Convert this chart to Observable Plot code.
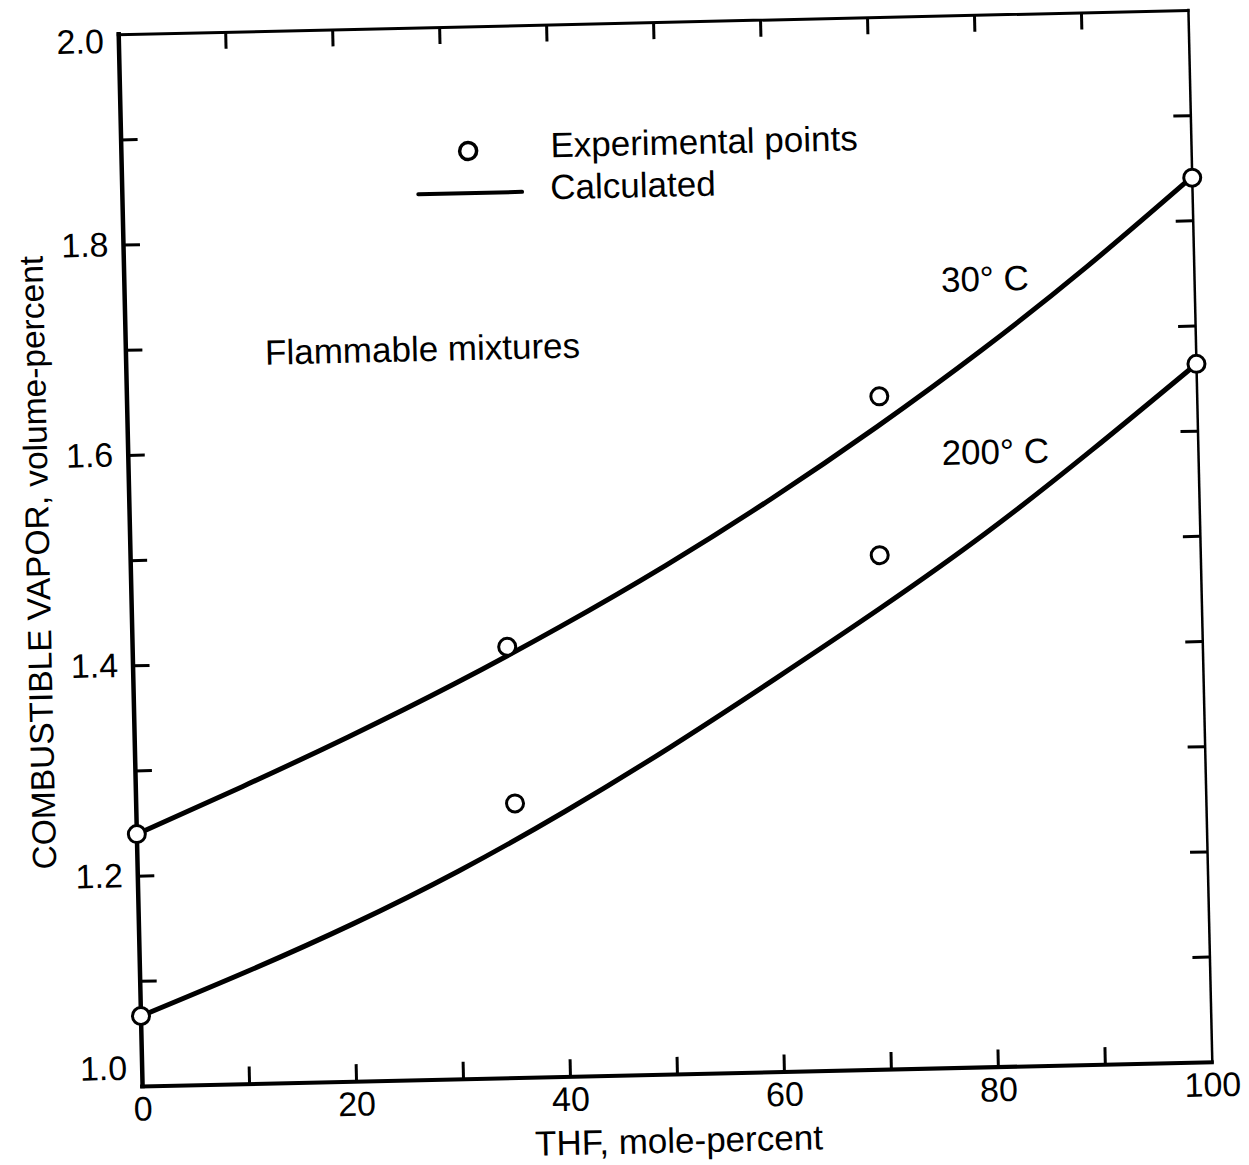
<!DOCTYPE html>
<html>
<head>
<meta charset="utf-8">
<script src="https://cdn.jsdelivr.net/npm/d3@7"></script>
<script src="https://cdn.jsdelivr.net/npm/@observablehq/plot@0.6"></script>
<style>
  html, body { margin: 0; padding: 0; background: #fff; overflow: hidden; }
  #chart { width: 1249px; height: 1165px; transform-origin: 665px 548px; transform: rotate(-1.3deg); }
</style>
</head>
<body>
<div id="chart"></div>
<script>
// Calculated curves (THF mole-percent vs combustible vapor, volume-percent)
const thf = [0, 10, 20, 30, 40, 50, 60, 70, 80, 90, 100];
const calc30 = [1.240, 1.283, 1.328, 1.376, 1.428, 1.484, 1.545, 1.611, 1.682, 1.759, 1.842];
const calc200 = [1.067, 1.107, 1.150, 1.198, 1.252, 1.311, 1.374, 1.439, 1.508, 1.584, 1.664];

// Experimental points
const expThf30 = [0, 35.0, 70.3, 100];
const exp30 = [1.240, 1.410, 1.640, 1.841];
const expThf200 = [0, 35.4, 70.0, 100];
const exp200 = [1.067, 1.261, 1.489, 1.664];

// Axes
const xLabels = [0, 20, 40, 60, 80, 100];
const xMinor = [10, 20, 30, 40, 50, 60, 70, 80, 90];
const yLabels = [1.2, 1.4, 1.6, 1.8];
const yMinor = [1.1, 1.2, 1.3, 1.4, 1.5, 1.6, 1.7, 1.8, 1.9];
const xTitle = "THF, mole-percent";
const yTitle = "COMBUSTIBLE VAPOR, volume-percent";
const seriesLabels = ["30° C", "200° C"];
const legendLabels = ["Experimental points", "Calculated"];
const regionLabel = "Flammable mixtures";

const curve30 = thf.map((x, i) => ({x, y: calc30[i]}));
const curve200 = thf.map((x, i) => ({x, y: calc200[i]}));
const points = [
  ...expThf30.map((x, i) => ({x, y: exp30[i]})),
  ...expThf200.map((x, i) => ({x, y: exp200[i]}))
];

const W = 1249, H = 1165;
const mL = 130, mR = 49, mT = 22, mB = 91;
const innerW = W - mL - mR, innerH = H - mT - mB;
const tickLen = 17;
const font = "'Liberation Sans', Arial, Helvetica, sans-serif";
const fs = 34;
const fsText = 35;
const fmt1 = d3.format(".1f");

const chart = Plot.plot({
  width: W,
  height: H,
  marginLeft: mL,
  marginRight: mR,
  marginTop: mT,
  marginBottom: mB,
  style: {fontFamily: font, fontSize: fs + "px", background: "white", color: "black", overflow: "visible"},
  x: {domain: [0, 100], axis: null},
  y: {domain: [1.0, 2.0], axis: null},
  marks: [
    // inward ticks
    Plot.tickX(xMinor, {x: d => d, insetTop: innerH - tickLen, stroke: "black", strokeWidth: 3}),
    Plot.tickX(xMinor, {x: d => d, insetBottom: innerH - tickLen, stroke: "black", strokeWidth: 3}),
    Plot.tickY(yMinor, {y: d => d, insetRight: innerW - tickLen, stroke: "black", strokeWidth: 3}),
    Plot.tickY(yMinor, {y: d => d, insetLeft: innerW - tickLen, stroke: "black", strokeWidth: 3}),
    // frame
    Plot.ruleX([0], {strokeWidth: 4.5, strokeLinecap: "square"}),
    Plot.ruleX([100], {strokeWidth: 2.5, strokeLinecap: "square"}),
    Plot.ruleY([1.0], {strokeWidth: 4, strokeLinecap: "square"}),
    Plot.ruleY([2.0], {strokeWidth: 3, strokeLinecap: "square"}),
    // tick labels
    Plot.axisX(xLabels, {anchor: "bottom", tickSize: 0, tickPadding: 10, label: null, fontSize: fs, tickFormat: d => String(d)}),
    Plot.axisY(yLabels, {anchor: "left", tickSize: 0, tickPadding: 15, label: null, fontSize: fs, tickFormat: fmt1}),
    Plot.axisY([1.0], {anchor: "left", tickSize: 0, tickPadding: 15, label: null, fontSize: fs, tickFormat: fmt1, dy: -18}),
    Plot.axisY([2.0], {anchor: "left", tickSize: 0, tickPadding: 15, label: null, fontSize: fs, tickFormat: fmt1, dy: 7}),
    // axis titles
    Plot.text([xTitle], {frameAnchor: "bottom", dy: 67, text: d => d, textAnchor: "middle", lineAnchor: "middle", fontSize: fsText}),
    Plot.text([yTitle], {frameAnchor: "left", dx: -92, rotate: -90, text: d => d, textAnchor: "middle", lineAnchor: "middle", fontSize: 33.5}),
    // curves
    Plot.line(curve30, {x: "x", y: "y", curve: "natural", stroke: "black", strokeWidth: 5}),
    Plot.line(curve200, {x: "x", y: "y", curve: "natural", stroke: "black", strokeWidth: 5}),
    // experimental points
    Plot.dot(points, {x: "x", y: "y", r: 8.5, stroke: "black", fill: "white", strokeWidth: 3}),
    // legend
    Plot.dot([{x: 32.4, y: 1.882}], {x: "x", y: "y", r: 8.5, stroke: "black", fill: "white", strokeWidth: 3.5}),
    Plot.ruleY([1.842], {x1: 27.7, x2: 37.4, stroke: "black", strokeWidth: 4, strokeLinecap: "round"}),
    Plot.text([{x: 40.1, y: 1.885, t: legendLabels[0]}, {x: 40.0, y: 1.845, t: legendLabels[1]}],
      {x: "x", y: "y", text: "t", textAnchor: "start", lineAnchor: "middle", fontSize: fsText}),
    // annotations
    Plot.text([{x: 13.0, y: 1.694, t: regionLabel}, {x: 76.3, y: 1.7485, t: seriesLabels[0]}, {x: 76.0, y: 1.584, t: seriesLabels[1]}],
      {x: "x", y: "y", text: "t", textAnchor: "start", lineAnchor: "middle", fontSize: fsText})
  ]
});
document.getElementById("chart").appendChild(chart);
</script>
</body>
</html>
